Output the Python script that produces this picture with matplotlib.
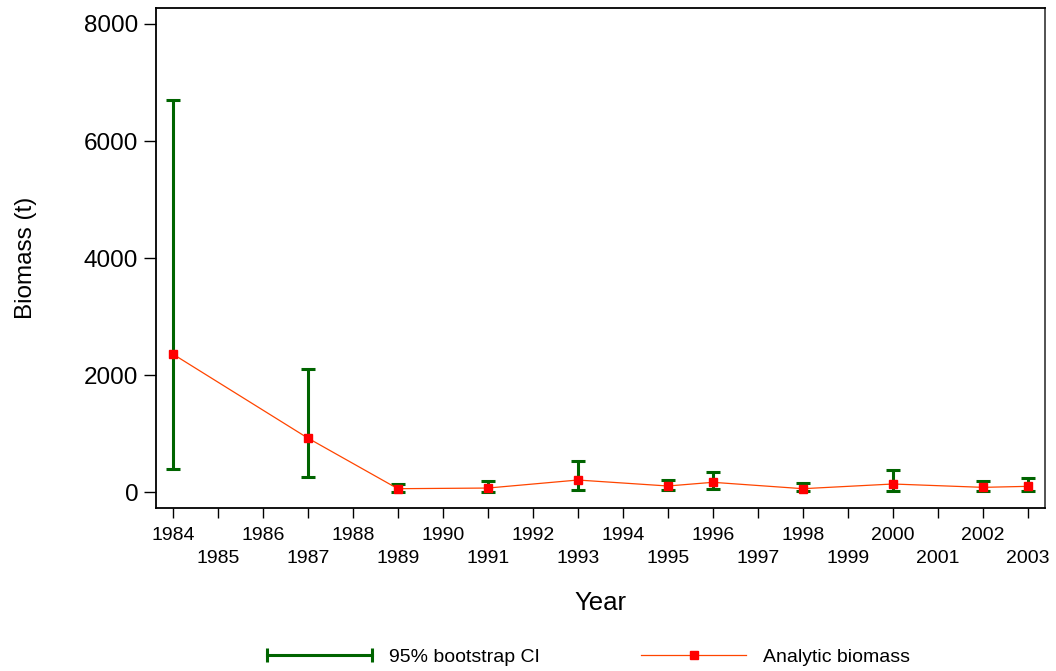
import numpy as np
import matplotlib
matplotlib.use("Agg")
import matplotlib.pyplot as plt
from matplotlib.lines import Line2D
from matplotlib.legend_handler import HandlerLine2D

plt.rcParams['font.family'] = ['Liberation Sans', 'DejaVu Sans']

# Données
years = [1984, 1987, 1989, 1991, 1993, 1995, 1996, 1998, 2000, 2002, 2003]
biomass = [2362, 927, 62, 73, 210, 108, 171, 62, 142, 85, 102]
ci_low = [398, 266, 10, 5, 40, 34, 62, 17, 17, 27, 17]
ci_high = [6705, 2100, 142, 193, 535, 210, 352, 154, 376, 193, 244]
tick_years = list(range(1984, 2004))
y_ticks = [0, 2000, 4000, 6000, 8000]

green = '#006400'
orange = '#FF4500'

fig = plt.figure(figsize=(10.56, 6.71), dpi=100)
ax = fig.add_axes([0.1474, 0.2429, 0.8422, 0.7447])

b = np.array(biomass)
yerr = [b - np.array(ci_low), np.array(ci_high) - b]
ax.errorbar(years, biomass, yerr=yerr, fmt='none', ecolor=green,
            elinewidth=2.2, capsize=5, capthick=2.2, zorder=2)
ax.plot(years, biomass, color=orange, lw=0.9, marker='s', ms=6,
        mfc='red', mec='red', zorder=3)

ax.set_xlim(1983.62, 2003.38)
ax.set_ylim(-268, 8266)
ax.set_yticks(y_ticks)
ax.set_yticklabels([str(v) for v in y_ticks], fontsize=17.5)
ax.set_xticks(tick_years)
ax.set_xticklabels([str(y) for y in tick_years], fontsize=14)
ax.tick_params(axis='y', length=8.5, width=1, pad=4)
ax.tick_params(axis='x', length=7.5, width=1)
for i, t in enumerate(ax.xaxis.get_major_ticks()):
    t.set_pad(6.5 if i % 2 == 0 else 22.5)

for s in ax.spines.values():
    s.set_linewidth(1.3)
ax.spines['right'].set_color('#444444')

ax.set_ylabel('Biomass (t)', fontsize=17.5, labelpad=34)
fig.text(0.5682, 1 - 602.7 / 671, 'Year', fontsize=18.5, ha='center', va='center')

h_ci = Line2D([], [], color=green, lw=2.2, marker='|', ms=10, mew=2.2)
h_bio = Line2D([], [], color=orange, lw=0.9, marker='s', ms=6, mfc='red', mec='red')
fig.legend([h_ci, h_bio], ['95% bootstrap CI', 'Analytic biomass'],
           handler_map={h_ci: HandlerLine2D(numpoints=2, marker_pad=0)},
           loc='center', bbox_to_anchor=(0.5575, 1 - 656.7 / 671), ncol=2,
           frameon=False, fontsize=14, handlelength=5.4, handletextpad=0.87,
           columnspacing=5.2)

fig.savefig('out.png', dpi=100)
